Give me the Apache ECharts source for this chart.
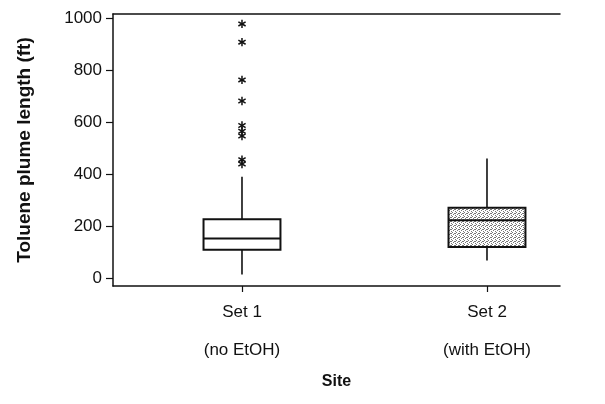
<!DOCTYPE html>
<html><head><meta charset="utf-8">
<script src="https://cdn.jsdelivr.net/npm/echarts@6/dist/echarts.min.js"></script>
<style>html,body{margin:0;padding:0;background:#fff}#c{width:605px;height:404px}</style>
</head><body><div id="c"></div>
<script>
const categories = ['Set 1', 'Set 2'];
const subLabels = ['(no EtOH)', '(with EtOH)'];
const positions = [1, 2];
// [min whisker, Q1, median, Q3, max whisker]
const set1Stats = [16, 111, 154, 228, 391];
const set2Stats = [70, 122, 224, 272, 461];
const set1Outliers = [978, 908, 763, 682, 588, 566, 548, 457, 440];
const yTicks = [0, 200, 400, 600, 800, 1000];
const yTitle = 'Toluene plume length (ft)';
const xTitle = 'Site';

// stipple pattern for Set 2
const pc = document.createElement('canvas');
pc.width = 4; pc.height = 4;
const pctx = pc.getContext('2d');
pctx.fillStyle = '#fff'; pctx.fillRect(0,0,4,4);
pctx.fillStyle = '#777';
[[0,0],[2,1],[1,2],[3,3],[3,1]].forEach(p => pctx.fillRect(p[0],p[1],1,1));

const boxData = [
  [positions[0]].concat(set1Stats).concat([0]),
  [positions[1]].concat(set2Stats).concat([1])
];
const outlierData = set1Outliers.map(v => [positions[0], v]);

const chart = echarts.init(document.getElementById('c'));
const font = 'Liberation Sans, Arial, sans-serif';
const xMin = 0.4735, xMax = 2.298;
chart.setOption({
  animation: false,
  grid: { left: 113, right: 45, top: 14, bottom: 118 },
  xAxis: [{
    type: 'value', min: xMin, max: xMax, position: 'bottom',
    splitLine: { show: false },
    axisLine: { onZero: false, lineStyle: { color: '#111', width: 1.5 } },
    axisTick: { customValues: positions, length: 6, lineStyle: { color: '#111', width: 1.2 } },
    axisLabel: {
      customValues: positions, margin: 9, color: '#111', fontFamily: font,
      formatter: v => { const i = positions.indexOf(v); return '{a|' + categories[i] + '}\n{b|' + subLabels[i] + '}'; },
      rich: { a: { fontSize: 17, lineHeight: 34, fontFamily: font, color: '#111' },
              b: { fontSize: 17, lineHeight: 42, fontFamily: font, color: '#111' } }
    },
    name: xTitle, nameLocation: 'middle', nameGap: 88,
    nameTextStyle: { fontSize: 16, fontWeight: 'bold', fontFamily: font, color: '#111' }
  }, {
    type: 'value', min: xMin, max: xMax, position: 'top',
    splitLine: { show: false },
    axisLine: { onZero: false, lineStyle: { color: '#111', width: 1.5 } },
    axisTick: { show: false }, axisLabel: { show: false }
  }],
  yAxis: {
    type: 'value', min: -28, max: 1016,
    splitLine: { show: false },
    axisLine: { show: true, onZero: false, lineStyle: { color: '#111', width: 1.5 } },
    axisTick: { show: true, customValues: yTicks, length: 7, lineStyle: { color: '#111', width: 1.2 } },
    axisLabel: { customValues: yTicks, fontSize: 17, fontFamily: font, color: '#111', margin: 11, formatter: v => String(v) },
    name: yTitle, nameLocation: 'middle', nameGap: 79,
    nameTextStyle: { fontSize: 19, fontWeight: 'bold', fontFamily: font, color: '#111' }
  },
  series: [{
    type: 'custom',
    data: boxData,
    encode: { x: 0, y: [1,2,3,4,5] },
    renderItem: (params, api) => {
      const x = api.value(0);
      const hw = 0.157;
      const pMin = api.coord([x, api.value(1)]);
      const pQ1 = api.coord([x, api.value(2)]);
      const pMed = api.coord([x, api.value(3)]);
      const pQ3 = api.coord([x, api.value(4)]);
      const pMax = api.coord([x, api.value(5)]);
      const left = api.coord([x - hw, 0])[0];
      const right = api.coord([x + hw, 0])[0];
      const filled = api.value(6) === 1;
      const ls = { stroke: '#111', lineWidth: 1.6 };
      return { type: 'group', children: [
        { type: 'line', shape: { x1: pQ3[0], y1: pQ3[1], x2: pMax[0], y2: pMax[1] }, style: ls },
        { type: 'line', shape: { x1: pQ1[0], y1: pQ1[1], x2: pMin[0], y2: pMin[1] }, style: ls },
        { type: 'rect', shape: { x: left, y: pQ3[1], width: right - left, height: pQ1[1] - pQ3[1] },
          style: { fill: filled ? { image: pc, repeat: 'repeat' } : '#fff', stroke: '#111', lineWidth: 2 } },
        { type: 'line', shape: { x1: left, y1: pMed[1], x2: right, y2: pMed[1] }, style: { stroke: '#111', lineWidth: 2 } }
      ]};
    }
  }, {
    type: 'custom',
    data: outlierData,
    encode: { x: 0, y: 1 },
    renderItem: (params, api) => {
      const p = api.coord([api.value(0), api.value(1)]);
      const r = 4.2, ls = { stroke: '#111', lineWidth: 1.5 };
      const ch = [];
      for (let k = 0; k < 3; k++) {
        const a = Math.PI / 2 + k * Math.PI / 3;
        ch.push({ type: 'line', shape: { x1: p[0] - r*Math.cos(a), y1: p[1] - r*Math.sin(a), x2: p[0] + r*Math.cos(a), y2: p[1] + r*Math.sin(a) }, style: ls });
      }
      return { type: 'group', children: ch };
    }
  }]
});
</script></body></html>
